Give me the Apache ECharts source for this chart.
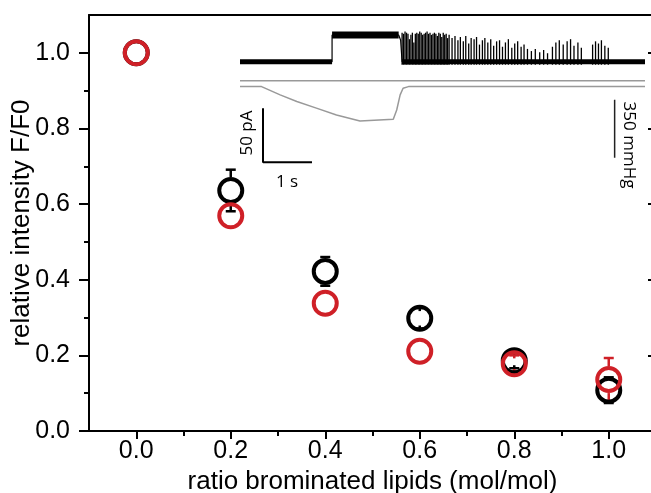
<!DOCTYPE html>
<html>
<head>
<meta charset="utf-8">
<script src="https://cdn.jsdelivr.net/npm/echarts@6/dist/echarts.min.js"></script>
<style>
html,body{margin:0;padding:0;background:#fff;}
#chart{width:651px;height:493px;}
</style>
</head>
<body>
<div id="chart"></div>
<script>
// ---- main data ----
const ratios = [0, 0.2, 0.4, 0.6, 0.8, 1.0];
const blackMean = [1.0, 0.636, 0.422, 0.298, 0.186, 0.108];
const blackErr  = [0, 0.055, 0.038, 0.027, 0.02, 0.034];
const redMean   = [1.0, 0.569, 0.338, 0.211, 0.178, 0.136];
const redErr    = [0, 0, 0, 0, 0.022, 0.057];
const xMajorTicks = [0, 0.2, 0.4, 0.6, 0.8, 1.0];
const xMinorTicks = [0.1, 0.3, 0.5, 0.7, 0.9];
const yMajorTicks = [0, 0.2, 0.4, 0.6, 0.8, 1.0];
const yMinorTicks = [0.1, 0.3, 0.5, 0.7, 0.9];

// ---- inset data (time in s, current in pA, pressure in mmHg) ----
const baseBandA = [[0, 0], [1.88, 0]];
const openBand  = [[1.88, 24.7], [3.24, 24.7]];
const baseBandB = [[3.31, 0], [8.27, 0]];
const currentPath = [[0, 0], [1.88, 0], [1.88, 24.7], [3.24, 24.7], [3.28, 20], [3.31, 0], [8.27, 0]];
const spikes = [
  [3.31,25],[3.34,24],[3.37,26],[3.40,25],[3.43,24],[3.46,19],[3.49,23],[3.52,25],[3.55,16],[3.58,24],
  [3.61,25],[3.64,24],[3.67,26],[3.70,25],[3.73,23],[3.76,24],[3.79,25],[3.82,26],[3.85,24],[3.88,25],
  [3.91,23],[3.94,24],[3.97,25],[4.00,24],[4.03,22],[4.06,25],[4.09,24],[4.12,21],[4.15,25],[4.18,23],
  [4.21,24],[4.24,20],[4.27,23],
  [4.33,20],[4.39,22],[4.45,18],[4.50,21],[4.56,17],[4.61,22],[4.67,15],[4.72,20],[4.78,19],[4.83,21],
  [4.89,14],[4.95,18],[5.00,20],[5.06,16],[5.12,19],[5.18,13],[5.24,17],[5.30,18],[5.36,12],[5.42,16],
  [5.48,19],[5.55,11],[5.61,15],[5.67,17],[5.74,12],[5.80,14],[5.87,10],
  [5.95,8],[6.03,10],[6.12,7],[6.20,9],[6.28,6],
  [6.38,12],[6.45,16],[6.52,18],[6.60,14],[6.68,17],[6.75,19],[6.82,13],[6.90,16],[6.97,11],
  [7.20,14],[7.26,17],[7.32,15],[7.38,18],[7.45,13],[7.52,11]
];
const pressureTrace = [[0,0],[0.44,0],[0.82,-50],[1.16,-90],[1.56,-130],[1.97,-171],[2.45,-207],
  [3.13,-197],[3.20,-141],[3.27,-50],[3.33,-10],[3.44,0],[8.27,0]];
const refLine = [[0, 35], [8.27, 35]];
const scaleBarCurrent = [[0.47, -43], [0.47, -93], [1.47, -93]];
const scaleBarPressure = [[7.65, -80], [7.65, -430]];

const BLACK = '#000000';
const RED = '#cf2027';
const FONT = 'Liberation Sans, Arial, sans-serif';
const SYM = 23;

function errRender(color) {
  return function (params, api) {
    const x = api.value(0), y = api.value(1), e = api.value(2);
    if (!e) return null;
    const c = api.coord([x, y]);
    const top = api.coord([x, y + e]);
    const bot = api.coord([x, y - e]);
    const ePx = c[1] - top[1];
    const r = (SYM + 4) / 2;
    const inner = ePx >= r ? r : Math.max(ePx - 3, 0);
    const cap = 5;
    const st = {stroke: color, lineWidth: 2.5};
    return {type: 'group', children: [
      {type: 'line', shape: {x1: c[0], y1: c[1] - inner, x2: c[0], y2: top[1]}, style: st},
      {type: 'line', shape: {x1: c[0], y1: c[1] + inner, x2: c[0], y2: bot[1]}, style: st},
      {type: 'line', shape: {x1: c[0] - cap, y1: top[1], x2: c[0] + cap, y2: top[1]}, style: st},
      {type: 'line', shape: {x1: c[0] - cap, y1: bot[1], x2: c[0] + cap, y2: bot[1]}, style: st}
    ]};
  };
}

const chart = echarts.init(document.getElementById('chart'), null, {renderer: 'canvas'});
const axisLineStyle = {color: '#000', width: 2};
const lineOn = {onZero: false, lineStyle: axisLineStyle};
const lineOff = {show: false, onZero: false};

const option = {
  animation: false,
  backgroundColor: '#fff',
  grid: [
    {left: 89, top: 15, width: 567, height: 416, containLabel: false, outerBoundsMode: 'none'},
    {left: 240, top: 18.5, width: 405, height: 183.6, containLabel: false, outerBoundsMode: 'none'}
  ],
  xAxis: [
    {gridIndex: 0, type: 'value', min: -0.1, max: 1.1, position: 'bottom',
     axisLine: lineOn,
     axisTick: {customValues: xMajorTicks, length: 8, lineStyle: {width: 2, color: '#000'}},
     axisLabel: {customValues: xMajorTicks, margin: 8, fontSize: 25, fontFamily: FONT, color: '#000',
       formatter: v => v.toFixed(1)},
     splitLine: {show: false},
     name: 'ratio brominated lipids (mol/mol)', nameLocation: 'middle', nameGap: 36,
     nameTextStyle: {fontSize: 26, fontFamily: FONT, color: '#000'}},
    {gridIndex: 0, type: 'value', min: -0.1, max: 1.1, position: 'bottom',
     axisLine: lineOff,
     axisTick: {customValues: xMinorTicks, length: 5, lineStyle: {width: 2, color: '#000'}},
     axisLabel: {show: false}, splitLine: {show: false}},
    {gridIndex: 0, type: 'value', min: -0.1, max: 1.1, position: 'top',
     axisLine: lineOn, axisTick: {show: false},
     axisLabel: {show: false}, splitLine: {show: false}},
    {gridIndex: 1, type: 'value', min: 0, max: 8.27, show: false}
  ],
  yAxis: [
    {gridIndex: 0, type: 'value', min: 0, max: 1.1, position: 'left',
     axisLine: lineOn,
     axisTick: {customValues: yMajorTicks, length: 10, lineStyle: {width: 2, color: '#000'}},
     axisLabel: {customValues: yMajorTicks, margin: 19, fontSize: 25, fontFamily: FONT, color: '#000',
       formatter: v => v.toFixed(1)},
     splitLine: {show: false},
     name: 'relative intensity F/F0', nameLocation: 'middle', nameGap: 54, nameMoveOverlap: false,
     nameTextStyle: {fontSize: 26, fontFamily: FONT, color: '#000'}},
    {gridIndex: 0, type: 'value', min: 0, max: 1.1, position: 'left',
     axisLine: lineOff,
     axisTick: {customValues: yMinorTicks, length: 5, lineStyle: {width: 2, color: '#000'}},
     axisLabel: {show: false}, splitLine: {show: false}},
    {gridIndex: 0, type: 'value', min: 0, max: 1.1, position: 'right',
     axisLine: lineOn,
     axisTick: {customValues: yMajorTicks, inside: true, length: 8, lineStyle: {width: 2, color: '#000'}},
     axisLabel: {show: false}, splitLine: {show: false}},
    {gridIndex: 0, type: 'value', min: 0, max: 1.1, position: 'right',
     axisLine: lineOff,
     axisTick: {customValues: yMinorTicks, inside: true, length: 4, lineStyle: {width: 2, color: '#000'}},
     axisLabel: {show: false}, splitLine: {show: false}},
    {gridIndex: 1, type: 'value', min: -130, max: 40, show: false},
    {gridIndex: 1, type: 'value', min: -697, max: 411, show: false}
  ],
  graphic: [
    {type: 'text', x: 247, y: 133, rotation: Math.PI / 2,
     style: {text: '50 pA', font: '17px "Open Sans"', fill: '#000', align: 'center', verticalAlign: 'middle'}},
    {type: 'text', x: 287, y: 182,
     style: {text: '1 s', font: '17px "Open Sans"', fill: '#000', align: 'center', verticalAlign: 'middle'}},
    {type: 'text', x: 629, y: 145, rotation: -Math.PI / 2,
     style: {text: '350 mmHg', font: '17px "Open Sans"', fill: '#000', align: 'center', verticalAlign: 'middle'}}
  ],
  series: [
    // inset
    {type: 'line', xAxisIndex: 3, yAxisIndex: 5, data: refLine, symbol: 'none',
     lineStyle: {color: '#999', width: 1.5}, silent: true},
    {type: 'line', xAxisIndex: 3, yAxisIndex: 5, data: pressureTrace, symbol: 'none',
     lineStyle: {color: '#999', width: 1.5}, silent: true},
    {type: 'line', xAxisIndex: 3, yAxisIndex: 4, data: currentPath, symbol: 'none',
     lineStyle: {color: '#000', width: 1.2}, silent: true},
    {type: 'line', xAxisIndex: 3, yAxisIndex: 4, data: baseBandA, symbol: 'none',
     lineStyle: {color: '#000', width: 5}, silent: true},
    {type: 'line', xAxisIndex: 3, yAxisIndex: 4, data: openBand, symbol: 'none',
     lineStyle: {color: '#000', width: 7}, silent: true},
    {type: 'line', xAxisIndex: 3, yAxisIndex: 4, data: baseBandB, symbol: 'none',
     lineStyle: {color: '#000', width: 5}, silent: true},
    {type: 'custom', xAxisIndex: 3, yAxisIndex: 4, data: spikes, silent: true,
     renderItem: function (params, api) {
       const b = api.coord([api.value(0), 0]);
       const t = api.coord([api.value(0), api.value(1)]);
       return {type: 'line', shape: {x1: b[0], y1: b[1] + 3, x2: t[0], y2: t[1] - 2},
               style: {stroke: '#000', lineWidth: 1.3}};
     }},
    {type: 'line', xAxisIndex: 3, yAxisIndex: 4, data: scaleBarCurrent, symbol: 'none',
     lineStyle: {color: '#000', width: 2}, silent: true},
    {type: 'line', xAxisIndex: 3, yAxisIndex: 5, data: scaleBarPressure, symbol: 'none',
     lineStyle: {color: '#222', width: 1.5}, silent: true},
    // main
    {type: 'custom', xAxisIndex: 0, yAxisIndex: 0,
     data: ratios.map((x, i) => [x, blackMean[i], blackErr[i]]), renderItem: errRender(BLACK)},
    {type: 'scatter', xAxisIndex: 0, yAxisIndex: 0, symbol: 'circle', symbolSize: SYM,
     data: ratios.map((x, i) => [x, blackMean[i]]),
     itemStyle: {color: 'rgba(0,0,0,0)', borderColor: BLACK, borderWidth: 4, opacity: 1}},
    {type: 'custom', xAxisIndex: 0, yAxisIndex: 0,
     data: ratios.map((x, i) => [x, redMean[i], redErr[i]]), renderItem: errRender(RED)},
    {type: 'scatter', xAxisIndex: 0, yAxisIndex: 0, symbol: 'circle', symbolSize: SYM,
     data: ratios.map((x, i) => [x, redMean[i]]),
     itemStyle: {color: 'rgba(0,0,0,0)', borderColor: RED, borderWidth: 4, opacity: 1}}
  ]
};
chart.setOption(option);
</script>
</body>
</html>
